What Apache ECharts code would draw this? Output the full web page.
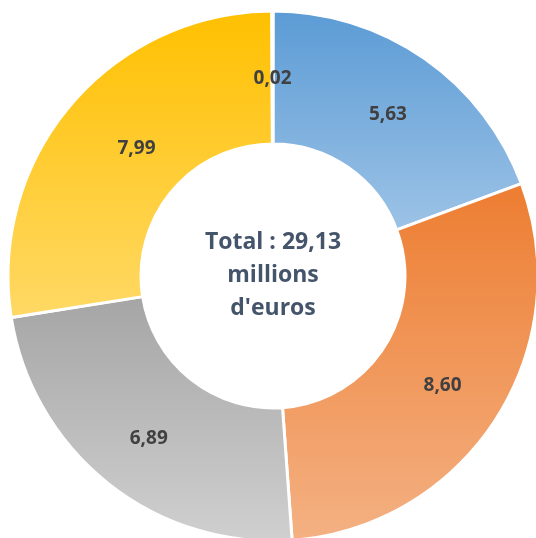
<!DOCTYPE html>
<html><head><meta charset="utf-8">
<script src="https://cdn.jsdelivr.net/npm/echarts@6/dist/echarts.min.js"></script>
<style>html,body{margin:0;padding:0;background:#fff}#c{width:536px;height:538px}</style>
</head><body><div id="c"></div>
<script>
const categories = ['A', 'B', 'C', 'D', 'E'];
const values = [5.63, 8.60, 6.89, 7.99, 0.02];
const labels = ['5,63', '8,60', '6,89', '7,99', '0,02'];
const centerText = 'Total : 29,13\nmillions\nd\'euros';
const colorTop = ['#5b9bd5', '#ed7d31', '#a5a5a5', '#ffc000', '#8fb0dc'];
const colorBottom = ['#9dc3e6', '#f4b183', '#d0d0d0', '#ffd966', '#8fb0dc'];
const labelOffsets = [[0, 4], [0, 1], [1, 5], [17, 3], [0, 4]];

function grad(i) {
  return new echarts.graphic.LinearGradient(0, 0, 0, 1, [
    {offset: 0, color: colorTop[i]}, {offset: 1, color: colorBottom[i]}
  ]);
}
const chart = echarts.init(document.getElementById('c'));
chart.setOption({
  animation: false,
  graphic: [{
    type: 'text',
    x: 273, y: 275,
    style: {
      text: centerText, textAlign: 'center', textVerticalAlign: 'middle',
      font: 'bold 23px "Open Sans", sans-serif', fill: '#44546a', lineHeight: 33
    }
  }],
  series: [{
    type: 'pie',
    center: [273, 276],
    radius: [132, 265],
    startAngle: 90,
    clockwise: true,
    silent: true,
    itemStyle: {borderColor: '#fff', borderWidth: 3},
    label: {
      position: 'inside',
      formatter: p => labels[p.dataIndex],
      color: '#404040', fontSize: 19, fontWeight: 'bold', fontFamily: '"Open Sans", sans-serif'
    },
    labelLine: {show: false},
    data: categories.map((c, i) => ({
      name: c, value: values[i],
      itemStyle: {color: grad(i)},
      label: {offset: labelOffsets[i]}
    }))
  }]
});
</script></body></html>
